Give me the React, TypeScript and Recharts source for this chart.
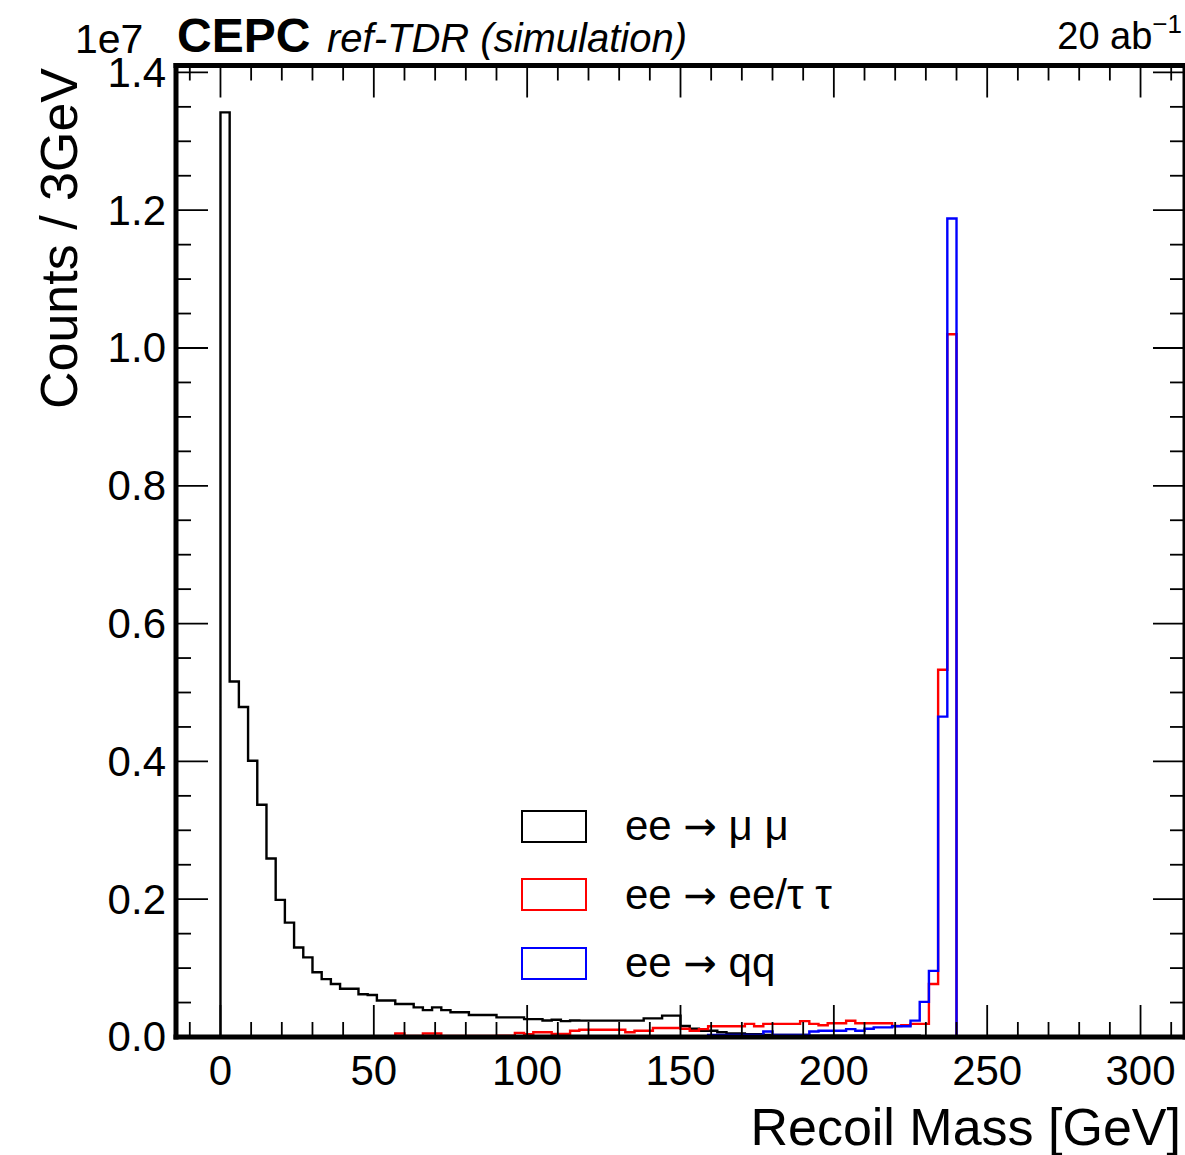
import React from 'react';
import { Legend, Line, LineChart, XAxis, YAxis } from 'recharts';

const FONT = '"Liberation Sans", Arial, Helvetica, sans-serif';
const ARROW_FONT = '"DejaVu Sans", sans-serif';
const BIN_WIDTH = 3; // GeV per bin, first bin starts at 0

// counts per bin, in units of 1e7
const mumuCounts = [
  1.342, 0.516, 0.479, 0.401, 0.337, 0.259, 0.199, 0.166, 0.13, 0.1155,
  0.094, 0.084, 0.077, 0.07, 0.07, 0.062, 0.061, 0.053, 0.053, 0.048,
  0.048, 0.043, 0.039, 0.043, 0.039, 0.036, 0.036, 0.032, 0.032, 0.032,
  0.0285, 0.0285, 0.0285, 0.026, 0.026, 0.024, 0.025, 0.023, 0.024, 0.0237,
  0.0237, 0.0237, 0.0237, 0.0237, 0.0237, 0.0237, 0.027, 0.027, 0.031, 0.031,
  0.016, 0.012, 0.009, 0.009, 0.007, 0.005, 0.005, 0.004, 0.004, 0.003,
  0.003, 0.003, 0.003, 0.003, 0.002, 0.002, 0.002, 0.002, 0.002, 0.002,
  0.002, 0.002, 0.002, 0.002, 0.002, 0.002, 0.001, 0.001, 0.001, 0.001,
];

const eettCounts = [
  0, 0, 0, 0, 0, 0, 0, 0, 0, 0,
  0, 0, 0, 0, 0, 0, 0, 0, 0, 0.005,
  0.0015, 0.0015, 0.005, 0.005, 0.0015, 0.0015, 0.0015, 0.0015, 0.0015, 0.0015,
  0.002, 0.002, 0.006, 0.004, 0.007, 0.007, 0.0045, 0.0045, 0.009, 0.0105,
  0.0105, 0.0105, 0.0105, 0.0105, 0.007, 0.009, 0.009, 0.013, 0.013, 0.013,
  0.012, 0.009, 0.0115, 0.0155, 0.0155, 0.0155, 0.0155, 0.019, 0.0155, 0.019,
  0.019, 0.019, 0.019, 0.023, 0.019, 0.017, 0.02, 0.02, 0.0235, 0.02,
  0.02, 0.02, 0.02, 0.016, 0.017, 0.019, 0.019, 0.077, 0.533, 1.02,
];

const qqCounts = [
  0, 0, 0, 0, 0, 0, 0, 0, 0, 0,
  0, 0, 0, 0, 0, 0, 0, 0, 0, 0,
  0, 0, 0, 0, 0, 0, 0, 0, 0, 0,
  0, 0, 0, 0, 0, 0, 0, 0, 0, 0,
  0, 0.001, 0.001, 0.001, 0.001, 0.001, 0.001, 0.001, 0.001, 0.001,
  0.001, 0.001, 0.001, 0.003, 0.003, 0.003, 0.003, 0.003, 0.003, 0.008,
  0.003, 0.003, 0.003, 0.003, 0.008, 0.009, 0.009, 0.009, 0.0115, 0.009,
  0.012, 0.014, 0.014, 0.0155, 0.0155, 0.0237, 0.051, 0.096, 0.465, 1.188,
];

const seriesNames = ['ee → μ μ', 'ee → ee/τ τ', 'ee → qq'];

const xTicks = [
  -10, 0, 10, 20, 30, 40, 50, 60, 70, 80, 90, 100, 110, 120, 130, 140, 150, 160,
  170, 180, 190, 200, 210, 220, 230, 240, 250, 260, 270, 280, 290, 300, 310,
];
const xMajorTicks = [0, 50, 100, 150, 200, 250, 300];

const yTicks = [
  0, 0.05, 0.1, 0.15, 0.2, 0.25, 0.3, 0.35, 0.4, 0.45, 0.5, 0.55, 0.6, 0.65, 0.7,
  0.75, 0.8, 0.85, 0.9, 0.95, 1.0, 1.05, 1.1, 1.15, 1.2, 1.25, 1.3, 1.35, 1.4,
];
const yMajorTicks = [0, 0.2, 0.4, 0.6, 0.8, 1.0, 1.2, 1.4];

const X_DOMAIN: [number, number] = [-14.5, 314.5];
const Y_DOMAIN: [number, number] = [0, 1.41];
const THIN = 0.001; // axes of zero size are not drawn at all

// histtype="step" outline: rise at first filled bin, fall after last bin
function toSteps(counts: number[]) {
  const first = counts.findIndex((c) => c > 0);
  const pts = [{ m: first * BIN_WIDTH, n: 0 }];
  for (let i = first; i < counts.length; i++) pts.push({ m: i * BIN_WIDTH, n: counts[i] });
  pts.push({ m: counts.length * BIN_WIDTH, n: 0 });
  return pts;
}

const mumuSteps = toSteps(mumuCounts);
const eettSteps = toSteps(eettCounts);
const qqSteps = toSteps(qqCounts);

const MAJOR_LEN = 32;
const MINOR_LEN = 15;
const TICK_W = 1.8;

const isMajorY = (v: number) => yMajorTicks.some((t) => Math.abs(t - v) < 1e-9);

function makeTick(side: 'bottom' | 'top' | 'left' | 'right') {
  return (props: any) => {
    const { x, y, payload } = props;
    const v = payload.value;
    const major = side === 'bottom' || side === 'top' ? xMajorTicks.includes(v) : isMajorY(v);
    const len = major ? MAJOR_LEN : MINOR_LEN;
    if (side === 'bottom') {
      return (
        <g>
          <line x1={x} x2={x} y1={y} y2={y - len} stroke="#000" strokeWidth={TICK_W} />
          {major && (
            <text x={x} y={y + 48} textAnchor="middle" fontSize={42} fontFamily={FONT} fill="#000">
              {v}
            </text>
          )}
        </g>
      );
    }
    if (side === 'top') {
      return <line x1={x} x2={x} y1={y} y2={y + len} stroke="#000" strokeWidth={TICK_W} />;
    }
    if (side === 'left') {
      return (
        <g>
          <line x1={x} x2={x + len} y1={y} y2={y} stroke="#000" strokeWidth={TICK_W} />
          {major && (
            <text x={x - 10} y={y} textAnchor="end" dominantBaseline="central" fontSize={42} fontFamily={FONT} fill="#000">
              {v.toFixed(1)}
            </text>
          )}
        </g>
      );
    }
    return <line x1={x} x2={x - len} y1={y} y2={y} stroke="#000" strokeWidth={TICK_W} />;
  };
}

const frameLine = { stroke: '#000', strokeWidth: 5, strokeLinecap: 'square' as const };

const renderLegend = (props: any) => {
  const items = [...(props.payload || [])].sort(
    (a: any, b: any) => seriesNames.indexOf(a.value) - seriesNames.indexOf(b.value),
  );
  return (
    <div style={{ fontFamily: FONT }}>
      {items.map((item: any) => {
        const [lhs, rhs] = String(item.value).split('→');
        return (
          <div key={item.value} style={{ display: 'flex', alignItems: 'center', height: 68.5 }}>
            <div style={{ boxSizing: 'border-box', width: 66, height: 33, border: `2.2px solid ${item.color}` }} />
            <span style={{ marginLeft: 38, fontSize: 42, lineHeight: '42px', color: '#000', whiteSpace: 'pre' }}>
              {lhs}
              <span style={{ fontFamily: ARROW_FONT, fontSize: 40 }}>→</span>
              {rhs}
            </span>
          </div>
        );
      })}
    </div>
  );
};

export default function App() {
  return (
    <div style={{ position: 'absolute', left: 0, top: 0, width: 1185, height: 1155, overflow: 'hidden', background: '#fff' }}>
      <LineChart width={1190} height={1155} margin={{ top: 65.5, right: 5, bottom: 118, left: 176 }}>
        <Line data={mumuSteps} dataKey="n" name={seriesNames[0]} type="stepAfter" stroke="#000" strokeWidth={2.4} dot={false} activeDot={false} isAnimationActive={false} />
        <Line data={eettSteps} dataKey="n" name={seriesNames[1]} type="stepAfter" stroke="#ff0000" strokeWidth={2.4} dot={false} activeDot={false} isAnimationActive={false} />
        <Line data={qqSteps} dataKey="n" name={seriesNames[2]} type="stepAfter" stroke="#0000ff" strokeWidth={2.4} dot={false} activeDot={false} isAnimationActive={false} />
        <XAxis xAxisId="top" orientation="top" type="number" dataKey="m" domain={X_DOMAIN} allowDataOverflow ticks={xTicks} interval={0} height={THIN} tickSize={0} tickMargin={0} tickLine={false} axisLine={frameLine} tick={makeTick('top')} />
        <YAxis yAxisId="right" orientation="right" type="number" domain={Y_DOMAIN} allowDataOverflow ticks={yTicks} interval={0} width={THIN} tickSize={0} tickMargin={0} tickLine={false} axisLine={frameLine} tick={makeTick('right')} />
        <XAxis type="number" dataKey="m" domain={X_DOMAIN} allowDataOverflow ticks={xTicks} interval={0} height={THIN} tickSize={0} tickMargin={0} tickLine={false} axisLine={frameLine} tick={makeTick('bottom')} />
        <YAxis type="number" domain={Y_DOMAIN} allowDataOverflow ticks={yTicks} interval={0} width={THIN} tickSize={0} tickMargin={0} tickLine={false} axisLine={frameLine} tick={makeTick('left')} />
        <Legend layout="vertical" align="center" verticalAlign="middle" content={renderLegend} wrapperStyle={{ left: 521, top: 792, width: 420 }} />
      </LineChart>
      <svg width={1185} height={1155} style={{ position: 'absolute', left: 0, top: 0, pointerEvents: 'none' }} fontFamily={FONT}>
        <text x={75} y={53} fontSize={41}>1e7</text>
        <text x={177} y={52} fontSize={48} fontWeight="bold">CEPC</text>
        <text x={327} y={52} fontSize={40} fontStyle="italic">ref-TDR (simulation)</text>
        <text x={1182} y={49} fontSize={38} textAnchor="end">
          20 ab<tspan fontSize={26} dy={-16}>−1</tspan>
        </text>
        <text x={1181} y={1145} fontSize={52} textAnchor="end">Recoil Mass [GeV]</text>
        <text transform="translate(77,68) rotate(-90)" fontSize={52} textAnchor="end">Counts / 3GeV</text>
      </svg>
    </div>
  );
}
